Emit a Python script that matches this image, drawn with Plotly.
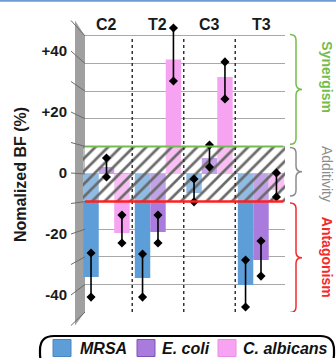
import plotly.graph_objects as go

W, H = 336, 358
FONT = "Liberation Sans, Arial, sans-serif"

# ---------------- data ----------------
categories = ["C2", "T2", "C3", "T3"]
series_names = ["MRSA", "E. coli", "C. albicans"]
mrsa = [-37.3, -37.7, -6.9, -40.2]
ecoli = [2.5, -21.0, 5.8, -31.2]
calb = [-21.4, 41.5, 35.1, -5.8]
mrsa_err_plus = [8.7, 8.7, 5.1, 9.0]
mrsa_err_minus = [7.3, 6.9, 3.2, 8.0]
ecoli_err_plus = [3.3, 6.1, 4.7, 6.9]
ecoli_err_minus = [3.6, 4.0, 3.3, 5.8]
calb_err_plus = [6.5, 11.4, 5.5, 6.2]
calb_err_minus = [3.6, 7.8, 7.9, 2.5]
tick_vals = [40, 20, 0, -20, -40]
tick_text = ["+40", "+20", "0", "-20", "-40"]
synergy_threshold = 10
antagonism_threshold = -10
zone_labels = ["Synergism", "Additivity", "Antagonism"]
y_title = "Nomalized BF (%)"

colors = ["#5e9ed8", "#a97bdc", "#f6a4f1"]
legend_edge = ["#4a86c0", "#7d52b8", "#e98ee4"]
values = [mrsa, ecoli, calb]
err_plus = [mrsa_err_plus, ecoli_err_plus, calb_err_plus]
err_minus = [mrsa_err_minus, ecoli_err_minus, calb_err_minus]


def px(x):
    return x / W


def py(y):
    return 1 - y / H


# axis geometry (pixels)
X_RANGE = [-0.456, 3.466]
Y_RANGE = [-50, 56]
Y_TOP_PX, Y_BOT_PX = 19.4, 312.0
FRONT_RANGE = [-50, 50]
F_TOP_PX, F_BOT_PX = 20.5, 325.5


def back_px(v):
    return Y_TOP_PX + (Y_RANGE[1] - v) * (Y_BOT_PX - Y_TOP_PX) / (Y_RANGE[1] - Y_RANGE[0])


def front_px(v):
    return F_TOP_PX + (FRONT_RANGE[1] - v) * (F_BOT_PX - F_TOP_PX) / (FRONT_RANGE[1] - FRONT_RANGE[0])


xs = list(range(len(categories)))
BW = 0.30
offsets = [-0.45, -0.15, 0.15]

fig = go.Figure()

for j, name in enumerate(series_names):
    fig.add_trace(go.Bar(
        x=xs, y=values[j], name=name, width=BW, offset=offsets[j],
        marker=dict(color=colors[j], line=dict(width=0)),
        showlegend=False, hoverinfo="skip",
    ))

# additivity hatched band
fig.add_trace(go.Scatter(
    x=[X_RANGE[0], X_RANGE[1], X_RANGE[1], X_RANGE[0], X_RANGE[0]],
    y=[antagonism_threshold, antagonism_threshold, synergy_threshold, synergy_threshold, antagonism_threshold],
    mode="lines", line=dict(width=0), fill="toself", fillcolor="rgba(0,0,0,0)",
    fillpattern=dict(shape="/", fgcolor="#6a6a6a", bgcolor="rgba(255,255,255,0.3)",
                     size=9, solidity=0.3, fillmode="replace"),
    showlegend=False, hoverinfo="skip",
))

# error bars with diamond ends
for j in range(len(series_names)):
    ex, ey = [], []
    for i in xs:
        xc = i + offsets[j] + BW / 2
        v = values[j][i]
        ex += [xc, xc, None]
        ey += [v - err_minus[j][i], v + err_plus[j][i], None]
    fig.add_trace(go.Scatter(
        x=ex, y=ey, mode="lines+markers",
        line=dict(color="black", width=1.6),
        marker=dict(symbol="diamond", size=7, color="black"),
        showlegend=False, hoverinfo="skip",
    ))

# dummy trace for front-scale axis
fig.add_trace(go.Scatter(x=[0], y=[0], yaxis="y2", mode="markers",
                         marker=dict(opacity=0), showlegend=False, hoverinfo="skip"))

shapes = []
# left 3D wall
wall = (f"M {px(75)},{py(F_TOP_PX)} L {px(85)},{py(back_px(50))} "
        f"L {px(85)},{py(back_px(-50))} L {px(75)},{py(F_BOT_PX)} Z")
shapes.append(dict(type="path", xref="paper", yref="paper", path=wall,
                   fillcolor="#a0a0a0", line=dict(width=0), layer="below"))
for v in range(-50, 51, 10):
    shapes.append(dict(type="line", xref="paper", yref="paper",
                       x0=px(71), y0=py(front_px(v)), x1=px(85), y1=py(back_px(v)),
                       line=dict(color="#6a6a6a", width=1), layer="above"))

# category separators
for k in range(len(categories) - 1):
    shapes.append(dict(type="line", xref="x", yref="y", x0=k + 0.5, x1=k + 0.5,
                       y0=-50, y1=50, line=dict(color="#333333", width=1.5, dash="dot")))

# thresholds
shapes.append(dict(type="line", xref="x", yref="y", x0=X_RANGE[0] + 0.04, x1=X_RANGE[1] - 0.03,
                   y0=synergy_threshold, y1=synergy_threshold,
                   line=dict(color="#72bd4b", width=2)))
shapes.append(dict(type="line", xref="x", yref="y", x0=X_RANGE[0] + 0.04, x1=X_RANGE[1] - 0.03,
                   y0=antagonism_threshold, y1=antagonism_threshold,
                   line=dict(color="#ff1f1f", width=2.5)))


# braces
def brace(y_top, y_bot, color):
    x0, x1, x2 = px(290), px(296), px(302)
    r = 2.0
    ym = (y_top + y_bot) / 2
    p = (f"M {x0},{y_top} Q {x1},{y_top} {x1},{y_top - r} L {x1},{ym + r} "
         f"Q {x1},{ym} {x2},{ym} Q {x1},{ym} {x1},{ym - r} L {x1},{y_bot + r} "
         f"Q {x1},{y_bot} {x0},{y_bot}")
    return dict(type="path", xref="paper", yref="y", path=p,
                line=dict(color=color, width=1.5))


zone_colors = ["#74bd4c", "#8c8c8c", "#f22a2a"]
shapes.append(brace(50.5, 10.8, zone_colors[0]))
shapes.append(brace(9.6, -8.0, zone_colors[1]))
shapes.append(brace(-10.5, -50.2, zone_colors[2]))


# legend pill
def rounded_rect(x0, y0, x1, y1, r):
    return (f"M {px(x0 + r)},{py(y0)} L {px(x1 - r)},{py(y0)} "
            f"Q {px(x1)},{py(y0)} {px(x1)},{py(y0 + r)} L {px(x1)},{py(y1 - r)} "
            f"Q {px(x1)},{py(y1)} {px(x1 - r)},{py(y1)} L {px(x0 + r)},{py(y1)} "
            f"Q {px(x0)},{py(y1)} {px(x0)},{py(y1 - r)} L {px(x0)},{py(y0 + r)} "
            f"Q {px(x0)},{py(y0)} {px(x0 + r)},{py(y0)} Z")


shapes.append(dict(type="path", xref="paper", yref="paper",
                   path=rounded_rect(40, 336, 334, 368, 14),
                   line=dict(color="black", width=2.2)))
sq_x = [53, 137, 218]
txt_x = [78, 160, 241]
annotations = []
for j, name in enumerate(series_names):
    shapes.append(dict(type="rect", xref="paper", yref="paper",
                       x0=px(sq_x[j]), x1=px(sq_x[j] + 18), y0=py(339.5), y1=py(356.5),
                       fillcolor=colors[j], line=dict(color=legend_edge[j], width=1)))
    annotations.append(dict(text=f"<b><i>{name}</i></b>", xref="paper", yref="paper",
                            x=px(txt_x[j]), y=py(348), xanchor="left", yanchor="middle",
                            showarrow=False, font=dict(size=16, color="#111", family=FONT)))

# top border line
shapes.append(dict(type="line", xref="paper", yref="paper", x0=0, x1=1, y0=py(0.8), y1=py(0.8),
                   line=dict(color="#6d9bd2", width=2)))

# headers
for i, c in enumerate(categories):
    annotations.append(dict(text=f"<b>{c}</b>", xref="x", yref="paper", x=i, y=py(24),
                            showarrow=False, xanchor="center", yanchor="middle",
                            font=dict(size=16, color="#1a1a1a", family=FONT)))
# y title
annotations.append(dict(text=f"<b>{y_title}</b>", xref="paper", yref="paper",
                        x=px(20), y=py(175), textangle=-90, showarrow=False,
                        xanchor="center", yanchor="middle",
                        font=dict(size=16, color="#1a1a1a", family=FONT)))
# zone labels
zone_y = [35, 0, -30]
zone_bold = [True, False, True]
for k, lab in enumerate(zone_labels):
    t = f"<b>{lab}</b>" if zone_bold[k] else lab
    annotations.append(dict(text=t, xref="paper", yref="y", x=px(327), y=zone_y[k],
                            textangle=90, showarrow=False, xanchor="center", yanchor="middle",
                            font=dict(size=14, color=zone_colors[k], family=FONT)))

fig.update_layout(
    width=W, height=H,
    margin=dict(l=0, r=0, t=0, b=0),
    paper_bgcolor="white", plot_bgcolor="rgba(0,0,0,0)",
    barmode="overlay",
    font=dict(family=FONT, color="#1a1a1a"),
    xaxis=dict(domain=[px(83), px(285)], range=X_RANGE, showgrid=False, zeroline=False,
               showticklabels=False, ticks="", showline=False, fixedrange=True),
    yaxis=dict(domain=[py(Y_BOT_PX), py(Y_TOP_PX)], range=Y_RANGE, showgrid=True,
               gridcolor="#a8a8a8", gridwidth=1, tick0=0, dtick=10, zeroline=False,
               showticklabels=False, ticks="", showline=False, fixedrange=True),
    yaxis2=dict(domain=[py(F_BOT_PX), py(F_TOP_PX)], range=FRONT_RANGE, anchor="free",
                position=px(75), side="left", showgrid=False, zeroline=False,
                showline=False, tickmode="array", tickvals=tick_vals, ticktext=tick_text,
                ticks="outside", ticklen=5, tickcolor="rgba(0,0,0,0)",
                tickfont=dict(size=15, color="#1a1a1a", family=FONT, weight="bold"),
                fixedrange=True),
    shapes=shapes,
    annotations=annotations,
    showlegend=False,
)

fig.write_html("out.html", config={"displayModeBar": False},
               post_script="document.body.style.margin='0px';document.body.style.overflow='hidden';")
